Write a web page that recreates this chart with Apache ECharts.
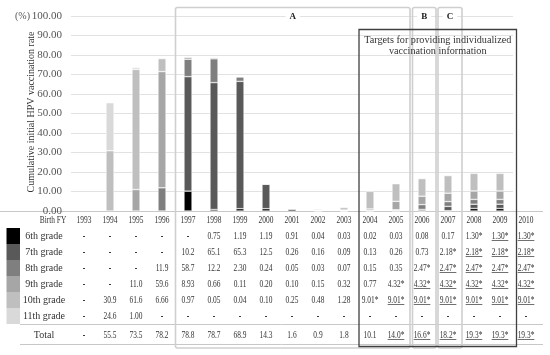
<!DOCTYPE html>
<html><head><meta charset="utf-8">
<script src="https://cdn.jsdelivr.net/npm/echarts@6/dist/echarts.min.js"></script>
<style>html,body{margin:0;padding:0;background:#fff}#c{width:550px;height:355px}</style>
</head><body><div id="c"></div>
<script>
// ---- data (leading "_" = underlined value in the table) ----
const years = ['1993','1994','1995','1996','1997','1998','1999','2000','2001','2002','2003','2004','2005','2006','2007','2008','2009'];
const extraYear = '2010';
const gradeNames = ['6th grade','7th grade','8th grade','9th grade','10th grade','11th grade'];
const grade6  = ['-','-','-','-','-','0.75','1.19','1.19','0.91','0.04','0.03','0.02','0.03','0.08','0.17','1.30*','_1.30*','_1.30*'];
const grade7  = ['-','-','-','-','10.2','65.1','65.3','12.5','0.26','0.16','0.09','0.13','0.26','0.73','2.18*','_2.18*','_2.18*','_2.18*'];
const grade8  = ['-','-','-','11.9','58.7','12.2','2.30','0.24','0.05','0.03','0.07','0.15','0.35','2.47*','_2.47*','_2.47*','_2.47*','_2.47*'];
const grade9  = ['-','-','11.0','59.6','8.93','0.66','0.11','0.20','0.10','0.15','0.32','0.77','4.32*','_4.32*','_4.32*','_4.32*','_4.32*','_4.32*'];
const grade10 = ['-','30.9','61.6','6.66','0.97','0.05','0.04','0.10','0.25','0.48','1.28','9.01*','_9.01*','_9.01*','_9.01*','_9.01*','_9.01*','_9.01*'];
const grade11 = ['-','24.6','1.00','-','-','-','-','-','-','-','-','-','-','-','-','-','-','-'];
const totals  = ['-','55.5','73.5','78.2','78.8','78.7','68.9','14.3','1.6','0.9','1.8','10.1','_14.0*','_16.6*','_18.2*','_19.3*','_19.3*','_19.3*'];
const gradeRows = [grade6, grade7, grade8, grade9, grade10, grade11];
const shiftedColorYear = '1997';   // in the figure this bar's colours are shifted one grade darker

// ---- styles ----
const FONT = 'Liberation Serif';
const gradeColors = ['#000000','#595959','#7f7f7f','#a6a6a6','#bfbfbf','#d9d9d9'];
const txt = '#333333';

const num = s => { const t = s.replace(/[_*]/g,''); return t === '-' ? '-' : parseFloat(t); };

const series = gradeRows.map((row, g) => ({
  name: gradeNames[g], type: 'bar', stack: 'all', barWidth: 8, silent: true,
  itemStyle: { color: gradeColors[g], borderColor: '#fff', borderWidth: 0.5 },
  data: years.map((y, i) => {
    const v = num(row[i]);
    if (y === shiftedColorYear && g > 0) return { value: v, itemStyle: { color: gradeColors[g - 1] } };
    return v;
  })
}));

const chart = echarts.init(document.getElementById('c'), null, { renderer: 'canvas' });
chart.setOption({
  animation: false,
  grid: { left: 71, right: 37, top: 16, bottom: 144 },
  xAxis: { type: 'category', data: years, axisLine: { show: false }, axisTick: { show: false }, axisLabel: { show: false } },
  yAxis: {
    type: 'value', min: 0, max: 100, interval: 10,
    axisLine: { show: false }, axisTick: { show: false },
    axisLabel: { formatter: v => v.toFixed(2), color: '#555555', fontFamily: FONT, fontSize: 11, margin: 9 },
    splitLine: { lineStyle: { color: '#e2e2e2', width: 1 } }
  },
  series
});

// ---- table + annotations ----
const cx = i => chart.convertToPixel({ xAxisIndex: 0 }, i);
const band = cx(1) - cx(0);
const colX = i => i < years.length ? cx(i) : cx(years.length - 1) + band * (i - years.length + 1);
const edge = i => cx(i) + band / 2;   // right boundary of category i
const tableYears = years.concat([extraYear]);

const ctx = document.createElement('canvas').getContext('2d');
const NUMFONT = '9.5px "' + FONT + '"';
const SX = 0.78;
ctx.font = NUMFONT;

const rowY = [220.5, 236, 252, 268, 284, 300, 316.5, 335];
const g = [];
const line = (x1, y1, x2, y2, stroke, w) => g.push({ type: 'line', silent: true, shape: { x1, y1, x2, y2 }, style: { stroke, lineWidth: w } });
const numText = (s, x, y) => {
  const u = s.startsWith('_'); const t = s.replace('_', '');
  g.push({ type: 'text', x, y, scaleX: SX, silent: true, style: { text: t, font: NUMFONT, fill: txt, textAlign: 'center', textVerticalAlign: 'middle' } });
  if (u) { const w = ctx.measureText(t).width * SX; line(x - w / 2, y + 4.5, x + w / 2, y + 4.5, txt, 0.7); }
};

// table rules
line(0, 211.5, 543, 211.5, '#c8c8c8', 1);
line(20, 324.5, 543, 324.5, '#c8c8c8', 1);
line(20, 344.5, 543, 344.5, '#c8c8c8', 1);

// swatches + row labels
gradeNames.forEach((n, k) => {
  g.push({ type: 'rect', silent: true, shape: { x: 6.5, y: 228 + 16 * k, width: 13.5, height: 16 }, style: { fill: gradeColors[k] } });
  g.push({ type: 'text', x: 44, y: rowY[k + 1], silent: true, style: { text: n, font: '10px "' + FONT + '"', fill: txt, textAlign: 'center', textVerticalAlign: 'middle' } });
});
g.push({ type: 'text', x: 44, y: rowY[7], silent: true, style: { text: 'Total', font: '10px "' + FONT + '"', fill: txt, textAlign: 'center', textVerticalAlign: 'middle' } });
numText('Birth FY', 53, rowY[0]);

// table cells
tableYears.forEach((y, i) => {
  const x = colX(i);
  numText(y, x, rowY[0]);
  gradeRows.forEach((row, k) => numText(row[i], x, rowY[k + 1]));
  numText(totals[i], x, rowY[7]);
});

// boxes A, B, C
const boxes = [
  { label: 'A', x1: edge(3) + 0.5, x2: edge(12) + 1 },
  { label: 'B', x1: edge(12) + 3.5, x2: edge(13) + 1 },
  { label: 'C', x1: edge(13) + 3, x2: edge(14) + 1 }
];
boxes.forEach(b => {
  g.push({ type: 'rect', silent: true, shape: { x: b.x1, y: 7.5, width: b.x2 - b.x1, height: 340.5, r: 2 }, style: { fill: 'none', stroke: '#cfcfcf', lineWidth: 1.6 } });
  g.push({ type: 'text', x: (b.x1 + b.x2) / 2, y: 17, silent: true, style: { text: b.label, font: 'bold 9px "' + FONT + '"', fill: '#222', textAlign: 'center', textVerticalAlign: 'middle', backgroundColor: '#fff', padding: [0, 4] } });
});

// targets box
const tx1 = edge(10) + 2, tx2 = edge(16) + 3.5;
g.push({ type: 'rect', silent: true, shape: { x: tx1, y: 29.5, width: tx2 - tx1, height: 317 }, style: { fill: 'none', stroke: '#404040', lineWidth: 1.3 } });
g.push({ type: 'text', x: (tx1 + tx2) / 2, y: 40, silent: true, style: { text: 'Targets for providing individualized', font: '10.2px "' + FONT + '"', fill: txt, textAlign: 'center', textVerticalAlign: 'middle' } });
g.push({ type: 'text', x: (tx1 + tx2) / 2, y: 51, silent: true, style: { text: 'vaccination information', font: '10.2px "' + FONT + '"', fill: txt, textAlign: 'center', textVerticalAlign: 'middle' } });

// axis title and unit
g.push({ type: 'text', x: 31, y: 112, rotation: Math.PI / 2, silent: true, style: { text: 'Cumulative initial HPV vaccination rate', font: '10px "' + FONT + '"', fill: txt, textAlign: 'center', textVerticalAlign: 'middle' } });
g.push({ type: 'text', x: 30, y: 16, silent: true, style: { text: '(%)', font: '10px "' + FONT + '"', fill: '#555555', textAlign: 'right', textVerticalAlign: 'middle' } });

chart.setOption({ graphic: { elements: g } });
</script></body></html>
